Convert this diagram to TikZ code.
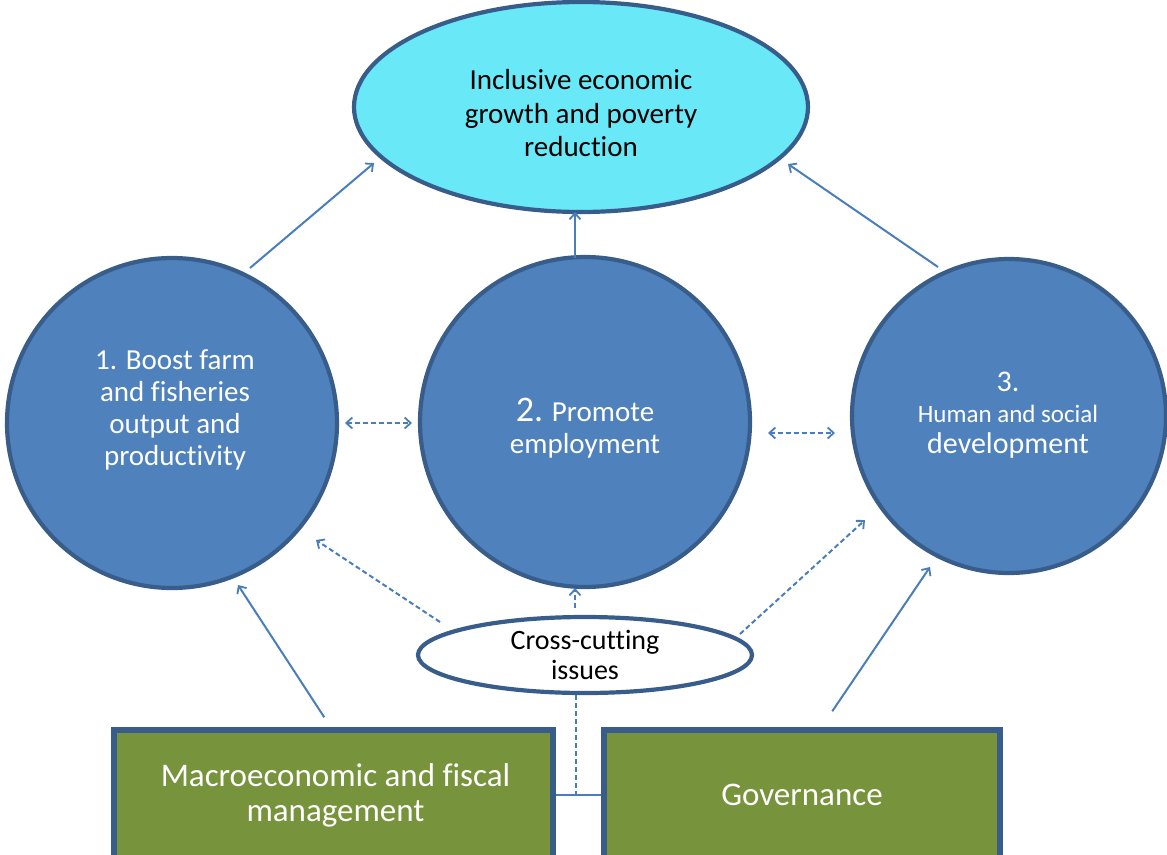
\documentclass[tikz,border=0pt]{standalone}
\usepackage{fontspec}
\setmainfont{Carlito}[Ligatures=NoCommon]
\usetikzlibrary{shapes.geometric,arrows.meta,calc}
\definecolor{circfill}{HTML}{4F81BD}
\definecolor{bord}{HTML}{385D8A}
\definecolor{cyanfill}{HTML}{69E8F7}
\definecolor{olivefill}{HTML}{77933C}
\definecolor{arr}{HTML}{4A7EBB}
\begin{document}
\begin{tikzpicture}[x=1pt,y=-1pt,
  bigcirc/.style={circle,draw=bord,fill=circfill,line width=4.2pt,inner sep=0pt},
  goal/.style={ellipse,draw=bord,fill=cyanfill,line width=4.2pt,inner sep=0pt,minimum width=454pt,minimum height=210pt},
  cross/.style={ellipse,draw=bord,fill=white,line width=4.2pt,inner sep=0pt,minimum width=334pt,minimum height=76pt},
  basebox/.style={rectangle,draw=bord,fill=olivefill,line width=5.5pt,inner sep=0pt,minimum height=130pt},
  wtext/.style={text=white,align=center,inner sep=0pt},
  btext/.style={text=black,align=center,inner sep=0pt},
  solidarrow/.style={draw=arr,line width=2pt,-{Straight Barb[length=6pt,width=11pt,line width=1.8pt]}},
  dasharrow/.style={draw=arr,line width=2pt,dash pattern=on 5pt off 3pt,-{Straight Barb[length=6pt,width=11pt,line width=1.8pt]}},
  dashboth/.style={draw=arr,line width=2pt,dash pattern=on 5pt off 3pt,{Straight Barb[length=6pt,width=11pt,line width=1.8pt]}-{Straight Barb[length=6pt,width=11pt,line width=1.8pt]}}
]
\useasboundingbox (0,0) rectangle (1167,854);
\clip (0,0) rectangle (1167,854);

% shapes
\node[goal] (top) at (581,107) {};
\node[bigcirc,minimum size=330pt] (c1) at (172,423) {};
\node[bigcirc,minimum size=330pt] (c2) at (585,422) {};
\node[bigcirc,minimum size=314pt] (c3) at (1009,416) {};
\node[cross] (cc) at (585,655) {};
\node[basebox,minimum width=439pt] (b1) at (333.5,795) {};
\node[basebox,minimum width=396pt] (b2) at (802,795) {};

% texts
\node[btext,font=\fontsize{29}{33.5}\selectfont] (t0) at (581,113.5) {Inclusive economic\\growth and poverty\\reduction};
\node[wtext,font=\fontsize{29}{32}\selectfont] (t1) at (175,410) {1. Boost farm\\and fisheries\\output and\\productivity};
\node[wtext,font=\fontsize{29}{32}\selectfont] (t2) at (585,428) {{\fontsize{36}{32}\selectfont 2.} Promote\\employment};
\node[wtext,font=\fontsize{30}{31}\selectfont] (t3) at (1008,415) {3.\\{\fontsize{25}{29}\selectfont Human and social}\\development};
\node[btext,font=\fontsize{28}{30}\selectfont] (tcc) at (585,655) {Cross-cutting\\issues};
\node[wtext,font=\fontsize{33}{35}\selectfont] (tb1) at (335.5,795) {Macroeconomic and fiscal\\management};
\node[wtext,font=\fontsize{33}{35}\selectfont] (tb2) at (802,795) {Governance};

% arrows to goal
\draw[solidarrow] ($(c1.center)+(78,-155)$) -- ($(top.center)+(-207,56)$);
\draw[solidarrow] ($(c2.center)+(-10,-164)$) -- ($(top.center)+(-6,105)$);
\draw[solidarrow] ($(c3.center)+(-71,-149)$) -- ($(top.center)+(207,57)$);

% dashed double arrows between circles
\draw[dashboth] ($(c1.center)+(173,0)$) -- ($(c2.center)+(-173,1)$);
\draw[dashboth] ($(c2.center)+(183,11)$) -- ($(c3.center)+(-174,17)$);

% cross-cutting arrows
\draw[dasharrow] ($(cc.center)+(-145,-33)$) -- ($(c1.center)+(144,117)$);
\draw[dasharrow] ($(cc.center)+(-10,-47)$) -- ($(c2.center)+(-10,166)$);
\draw[dasharrow] ($(cc.center)+(155,-21)$) -- ($(c3.center)+(-144,104)$);

% from boxes
\draw[solidarrow] ($(b1.north west)+(213,-10)$) -- ($(c1.center)+(66,162)$);
\draw[solidarrow] ($(b2.north west)+(231,-16)$) -- ($(c3.center)+(-79,151)$);

% junction between boxes
\coordinate (j) at ($(b1.east)!0.45!(b2.west)$);
\draw[draw=arr,line width=2.2pt] (b1.east) -- (b2.west);
\draw[draw=arr,line width=2pt,dash pattern=on 5pt off 3pt] (j |- cc.south) -- (j);
\end{tikzpicture}
\end{document}
